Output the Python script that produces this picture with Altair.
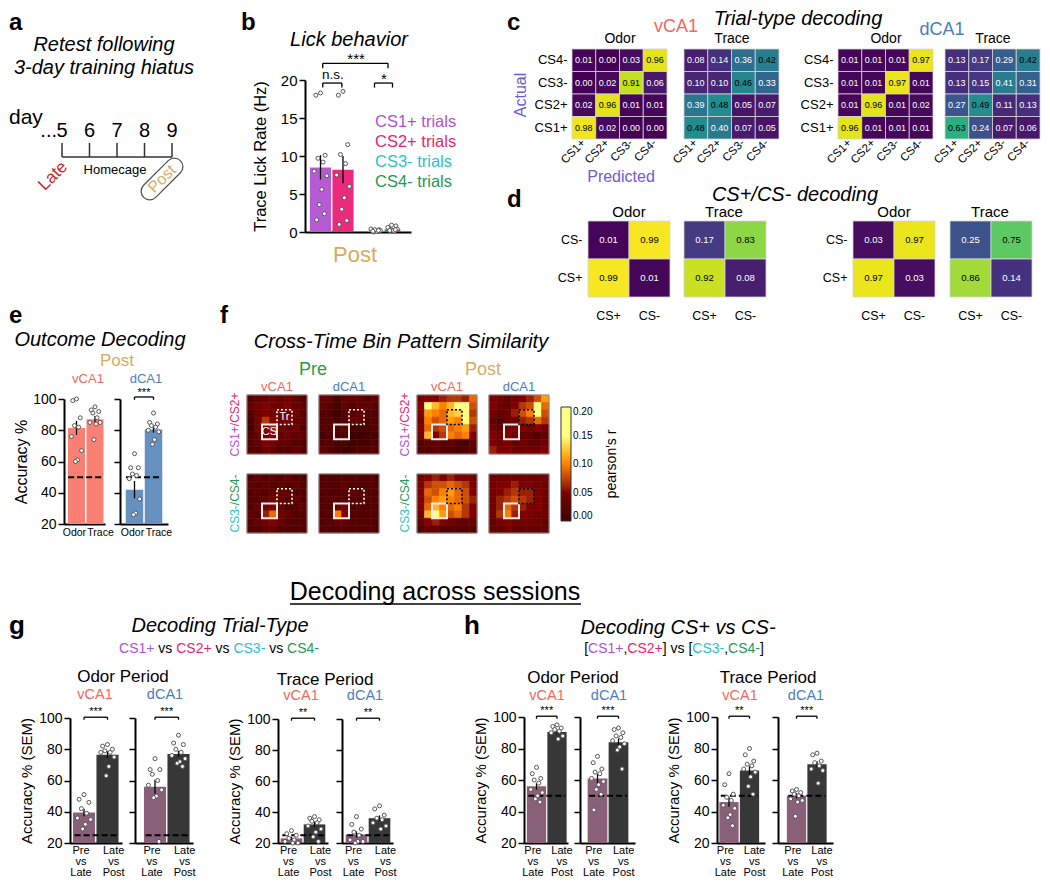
import altair as alt
import pandas as pd

FONT = "Liberation Sans"
W, H = 1034, 869
MARGIN = 8


def X(p):
    return p - MARGIN


def Y(p):
    return p - MARGIN


# ---------------- colours ----------------
COL_CS1 = "#B34FD3"
COL_CS2 = "#EA1F70"
COL_CS3 = "#2BC3CB"
COL_CS4 = "#1F9956"
COL_V = "#F2685A"
COL_D = "#4B7DBD"
COL_POST = "#D4AC62"
COL_PRE = "#2B9A47"
COL_LATE = "#C4272D"
COL_AP = "#6E5AD6"
BAR_CS1 = "#B65BD3"
BAR_CS2 = "#EA2A7B"
BAR_CS3 = "#2BC3CB"
BAR_CS4 = "#21985A"
BAR_V = "#F98072"
BAR_D = "#6690BF"
BAR_PVL = "#8A5F78"
BAR_LVP = "#373737"

# ---------------- data ----------------
# a: timeline
days = [5, 6, 7, 8, 9]

# b: lick behaviour
lick_types = ["CS1+", "CS2+", "CS3-", "CS4-"]
lick_means = [8.5, 8.2, 0.15, 0.35]
lick_sems = [1.6, 1.8, 0.04, 0.08]
lick_cs1 = [18.3, 18.0, 10.1, 9.7, 9.2, 8.0, 7.4, 5.6, 3.6, 2.4, 1.6]
lick_cs2 = [18.5, 18.0, 11.5, 10.2, 9.0, 7.5, 6.0, 4.5, 3.0, 1.5, 1.0]
lick_cs3 = [0.1, 0.2, 0.3, 0.0, 0.1, 0.4, 0.2, 0.1, 0.3, 0.2, 0.1]
lick_cs4 = [0.2, 0.5, 0.8, 0.3, 0.1, 0.6, 0.4, 0.2, 0.9, 0.3, 0.2]

# c: trial-type confusion matrices (rows = actual, top to bottom)
cm_rows = ["CS4-", "CS3-", "CS2+", "CS1+"]
cm_cols = ["CS1+", "CS2+", "CS3-", "CS4-"]
c_v_odor = [[0.01, 0.00, 0.03, 0.96], [0.00, 0.02, 0.91, 0.06],
            [0.02, 0.96, 0.01, 0.01], [0.98, 0.02, 0.00, 0.00]]
c_v_trace = [[0.08, 0.14, 0.36, 0.42], [0.10, 0.10, 0.46, 0.33],
             [0.39, 0.48, 0.05, 0.07], [0.48, 0.40, 0.07, 0.05]]
c_d_odor = [[0.01, 0.01, 0.01, 0.97], [0.01, 0.01, 0.97, 0.01],
            [0.01, 0.96, 0.01, 0.02], [0.96, 0.01, 0.01, 0.01]]
c_d_trace = [[0.13, 0.17, 0.29, 0.42], [0.13, 0.15, 0.41, 0.31],
             [0.27, 0.49, 0.11, 0.13], [0.63, 0.24, 0.07, 0.06]]

# d: CS+/CS- confusion matrices
dm_rows = ["CS-", "CS+"]
dm_cols = ["CS+", "CS-"]
d_v_odor = [[0.01, 0.99], [0.99, 0.01]]
d_v_trace = [[0.17, 0.83], [0.92, 0.08]]
d_d_odor = [[0.03, 0.97], [0.97, 0.03]]
d_d_trace = [[0.25, 0.75], [0.86, 0.14]]

# e: outcome decoding (Post)
e_v_means = [81.5, 87.0]
e_v_sems = [4.5, 2.2]
e_v_odor = [100, 99, 88, 83, 82, 76, 67, 61, 60]
e_v_trace = [95, 93, 92, 91, 88, 85, 85, 84, 74]
e_d_means = [42.0, 80.5]
e_d_sems = [5.5, 2.0]
e_d_odor = [65, 56, 56, 52, 51, 49, 36, 27, 26]
e_d_trace = [91, 85, 84, 83, 82, 80, 79, 74, 71]

# f: cross-time-bin pattern similarity (8x8, rows top to bottom)
f_pre_v_plus = [
    [.02, .03, .03, .04, .03, .04, .03, .02],
    [.03, .04, .05, .04, .04, .05, .03, .03],
    [.02, .04, .05, .04, .05, .04, .04, .02],
    [.01, .04, .07, .05, .04, .05, .03, .03],
    [.01, .04, .05, .06, .04, .03, .04, .02],
    [.02, .03, .04, .05, .03, .04, .03, .03],
    [.02, .03, .05, .04, .03, .03, .02, .02],
    [.02, .02, .04, .03, .02, .02, .03, .02]]
f_pre_d_plus = [
    [.03, .03, .01, .03, .03, .03, .02, .03],
    [.03, .02, .01, .03, .02, .03, .03, .02],
    [.02, .02, .00, .02, .02, .03, .02, .02],
    [.02, .02, .01, .02, .03, .03, .02, .02],
    [.02, .02, .02, .03, .01, .01, .01, .02],
    [.01, .02, .02, .02, .00, .00, .01, .01],
    [.02, .02, .01, .01, .00, .01, .01, .02],
    [.03, .02, .01, .00, .01, .02, .02, .02]]
f_post_v_plus = [
    [.04, .05, .05, .06, .07, .07, .06, .09],
    [.05, .15, .12, .10, .12, .17, .20, .08],
    [.05, .11, .10, .09, .12, .13, .16, .07],
    [.04, .10, .08, .09, .11, .10, .15, .08],
    [.05, .09, .07, .08, .09, .10, .11, .06],
    [.04, .12, .05, .07, .10, .09, .10, .05],
    [.02, .03, .03, .02, .03, .02, .01, .03],
    [.02, .02, .03, .02, .02, .01, .02, .02]]
f_post_d_plus = [
    [.04, .04, .03, .04, .05, .06, .08, .11],
    [.05, .04, .03, .05, .07, .08, .19, .09],
    [.04, .03, .04, .06, .08, .10, .16, .08],
    [.03, .02, .03, .04, .06, .07, .09, .07],
    [.04, .03, .04, .05, .05, .04, .05, .04],
    [.05, .04, .05, .04, .03, .03, .02, .03],
    [.05, .04, .05, .03, .04, .03, .03, .04],
    [.06, .05, .05, .04, .04, .04, .04, .05]]
f_pre_v_minus = [
    [.02, .03, .02, .03, .02, .03, .02, .02],
    [.03, .02, .03, .02, .03, .02, .03, .02],
    [.02, .03, .02, .03, .03, .03, .02, .02],
    [.02, .02, .03, .04, .03, .02, .03, .02],
    [.02, .03, .04, .05, .03, .02, .02, .03],
    [.03, .02, .06, .09, .04, .03, .02, .02],
    [.02, .03, .04, .05, .03, .02, .02, .02],
    [.02, .02, .03, .03, .02, .02, .02, .02]]
f_pre_d_minus = [
    [.02, .02, .02, .02, .02, .02, .02, .02],
    [.02, .02, .02, .03, .02, .02, .02, .02],
    [.02, .02, .02, .02, .03, .02, .02, .02],
    [.02, .02, .02, .02, .02, .02, .02, .02],
    [.02, .02, .03, .04, .02, .02, .02, .02],
    [.02, .02, .10, .05, .02, .02, .02, .02],
    [.02, .02, .03, .03, .02, .02, .02, .02],
    [.02, .02, .02, .02, .02, .02, .02, .02]]
f_post_v_minus = [
    [.04, .05, .06, .05, .06, .05, .05, .04],
    [.05, .07, .08, .08, .09, .08, .07, .05],
    [.05, .09, .08, .10, .11, .09, .08, .05],
    [.05, .08, .10, .11, .10, .09, .08, .06],
    [.05, .09, .12, .10, .09, .10, .07, .05],
    [.04, .12, .20, .11, .08, .09, .07, .05],
    [.03, .05, .06, .05, .04, .03, .03, .03],
    [.02, .03, .03, .02, .02, .02, .02, .02]]
f_post_d_minus = [
    [.04, .04, .04, .04, .04, .04, .04, .04],
    [.04, .05, .05, .06, .05, .05, .04, .04],
    [.04, .05, .06, .07, .06, .06, .05, .04],
    [.04, .06, .07, .08, .07, .06, .05, .04],
    [.04, .06, .09, .07, .06, .05, .05, .04],
    [.04, .07, .10, .06, .05, .05, .04, .04],
    [.03, .04, .05, .04, .04, .04, .04, .03],
    [.03, .03, .04, .03, .03, .03, .03, .03]]
cs_bins = [2, 4]
tr_bins = [4, 6]
cbar_ticks = [0.0, 0.05, 0.10, 0.15, 0.20]

# g: decoding trial type across sessions
g_odor_v_means = [39.5, 76.5]
g_odor_v_sems = [2.4, 2.2]
g_odor_v_pvl = [51, 48, 46, 42, 39, 36, 35, 32, 29]
g_odor_v_lvp = [83, 82, 80, 79, 78, 78, 75, 69, 63]
g_odor_d_means = [56.0, 77.0]
g_odor_d_sems = [4.5, 2.0]
g_odor_d_pvl = [74, 67, 67, 64, 60, 57, 54, 50, 49, 21]
g_odor_d_lvp = [89, 84, 83, 80, 78, 76, 74, 72, 71, 69]
g_trace_v_means = [23.0, 32.0]
g_trace_v_sems = [1.0, 1.8]
g_trace_v_pvl = [28, 26, 25, 23, 22, 21, 20, 20]
g_trace_v_lvp = [37, 36, 35, 34, 33, 31, 29, 27, 24, 21]
g_trace_d_means = [25.5, 36.0]
g_trace_d_sems = [2.0, 1.8]
g_trace_d_pvl = [37, 32, 29, 27, 25, 22, 21, 21, 20]
g_trace_d_lvp = [44, 42, 38, 36, 35, 33, 31, 29]

# h: decoding CS+ vs CS- across sessions
h_odor_v_means = [56.0, 90.5]
h_odor_v_sems = [2.2, 1.0]
h_odor_v_pvl = [68, 64, 61, 60, 58, 54, 52, 50, 48, 46]
h_odor_v_lvp = [95, 94, 93, 92, 91, 90, 88, 86]
h_odor_d_means = [61.0, 84.0]
h_odor_d_sems = [3.0, 2.4]
h_odor_d_pvl = [75, 71, 67, 65, 64, 61, 59, 57, 54, 51, 41]
h_odor_d_lvp = [93, 92, 90, 88, 87, 85, 83, 81, 79, 67]
h_trace_v_means = [46.0, 66.0]
h_trace_v_sems = [3.0, 2.8]
h_trace_v_pvl = [64, 57, 51, 49, 47, 44, 42, 38, 36, 31]
h_trace_v_lvp = [80, 76, 72, 70, 69, 67, 65, 62, 56, 51]
h_trace_d_means = [50.0, 70.0]
h_trace_d_sems = [1.8, 1.9]
h_trace_d_pvl = [54, 53, 52, 51, 50, 48, 47, 46, 37]
h_trace_d_lvp = [77, 76, 72, 71, 69, 67, 66, 58]

acc_ticks = [20, 40, 60, 80, 100]
lick_ticks = [0, 5, 10, 15, 20]

# ---------------- helpers ----------------
AW = {"C": .722, "S": .667, "+": .584, "-": .333, " ": .278, "v": .5, "s": .5,
      "[": .278, "]": .278, ",": .278, "/": .278}


def tw(s, size):
    return sum(AW.get(ch, .556) for ch in s) * size


def T(s, x, y, size=14, color="black", align="center", baseline="middle",
      angle=None, italic=False, bold=False):
    kw = dict(font=FONT, fontSize=size, align=align, baseline=baseline, color=color)
    if angle is not None:
        kw["angle"] = angle
    if italic:
        kw["fontStyle"] = "italic"
    if bold:
        kw["fontWeight"] = "bold"
    return alt.Chart(pd.DataFrame({"t": [s]})).mark_text(**kw).encode(
        x=alt.value(X(x)), y=alt.value(Y(y)), text="t:N")


def seg_h(pieces, cx, y, size):
    total = sum(tw(p, size) for p, _ in pieces)
    x = cx - total / 2
    out = []
    for p, col in pieces:
        lead = len(p) - len(p.lstrip(" "))
        out.append(T(p.strip(" "), x + tw(" " * lead, size), y, size, col, align="left"))
        x += tw(p, size)
    return out


def seg_v(pieces, x, cy, size):
    total = sum(tw(p, size) for p, _ in pieces)
    y = cy + total / 2
    out = []
    for p, col in pieces:
        out.append(T(p, x, y, size, col, align="left", angle=270))
        y -= tw(p, size)
    return out


def bracket(a, b, level, drop):
    return [(a, b, level, level), (a, a, level, level - drop), (b, b, level, level - drop)]


JIT = [0.0, -0.55, 0.55, -0.3, 0.3, -0.75, 0.75, 0.15, -0.15, 0.45, -0.45]


def bar_panel(means, sems, pts, colors, pos, half, cpx, axis_x, x_end, y_bot, y_top,
              ydom, yvals, show_ylab=True, ytitle=None, xlabel_expr=None, xlab_pos=None,
              chance=None, chance_span=None, segs=(), sig=(), ylab_size=14,
              ytitle_size=15, xlab_size=12, xlab_pad=2, xlab_lh=11, ytitle_pad=4,
              pt_size=18):
    unit = (cpx[1] - cpx[0]) / (pos[1] - pos[0])
    d0 = pos[0] + (axis_x - cpx[0]) / unit
    d1 = pos[0] + (x_end - cpx[0]) / unit
    xs = alt.Scale(domain=[d0, d1], range=[X(axis_x), X(x_end)], nice=False, zero=False)
    ys = alt.Scale(domain=ydom, range=[Y(y_bot), Y(y_top)], nice=False, zero=False)
    if xlabel_expr:
        xax = alt.Axis(orient="bottom", offset=Y(y_bot) - H,
                       values=list(xlab_pos if xlab_pos else pos),
                       labelExpr=xlabel_expr, ticks=False, domainWidth=2,
                       domainColor="black", labelFontSize=xlab_size, labelColor="black",
                       labelPadding=xlab_pad, labelLineHeight=xlab_lh, labelFlush=False,
                       labelOverlap=False, labelAngle=0, labelBaseline="top",
                       title=None, grid=False)
    else:
        xax = alt.Axis(orient="bottom", offset=Y(y_bot) - H, labels=False, ticks=False,
                       domainWidth=2, domainColor="black", title=None, grid=False)
    yax = alt.Axis(orient="left", offset=-X(axis_x), values=list(yvals), labels=show_ylab,
                   tickSize=6, tickWidth=1.5, tickColor="black", domainWidth=2,
                   domainColor="black", labelFontSize=ylab_size, labelColor="black",
                   labelPadding=2, labelFlush=False, labelOverlap=False,
                   title=ytitle if (show_ylab and ytitle) else None,
                   titleFontSize=ytitle_size, titleFontWeight="normal",
                   titleColor="black", titlePadding=ytitle_pad, grid=False)
    n = len(means)
    bdf = pd.DataFrame({
        "p": pos,
        "xa": [p - h for p, h in zip(pos, half)],
        "xb": [p + h for p, h in zip(pos, half)],
        "m": means,
        "base": [ydom[0]] * n,
        "lo": [m - s for m, s in zip(means, sems)],
        "hi": [m + s for m, s in zip(means, sems)],
        "col": colors,
    })
    layers = [
        alt.Chart(bdf).mark_rect().encode(
            x=alt.X("xa:Q", scale=xs, axis=xax), x2="xb:Q",
            y=alt.Y("m:Q", scale=ys, axis=yax), y2="base:Q",
            color=alt.Color("col:N", scale=None)),
    ]
    if chance is not None:
        cdf = pd.DataFrame({"xa": [chance_span[0]], "xb": [chance_span[1]], "c": [chance]})
        layers.append(alt.Chart(cdf).mark_rule(color="black", strokeWidth=2,
                                               strokeDash=[6, 3]).encode(
            x=alt.X("xa:Q", scale=xs, axis=xax), x2="xb:Q",
            y=alt.Y("c:Q", scale=ys, axis=yax)))
    layers.append(alt.Chart(bdf).mark_rule(color="black", strokeWidth=1.3).encode(
        x=alt.X("p:Q", scale=xs, axis=xax),
        y=alt.Y("lo:Q", scale=ys, axis=yax), y2="hi:Q"))
    prec = []
    for k, arr in enumerate(pts):
        for i, v in enumerate(arr):
            prec.append({"x": pos[k] + JIT[i % len(JIT)] * half[k] * 0.8, "v": v})
    layers.append(alt.Chart(pd.DataFrame(prec)).mark_point(
        filled=True, fill="white", stroke="#555555", strokeWidth=1, size=pt_size,
        opacity=1).encode(
        x=alt.X("x:Q", scale=xs, axis=xax), y=alt.Y("v:Q", scale=ys, axis=yax)))
    if segs:
        sdf = pd.DataFrame(list(segs), columns=["x", "x2", "y", "y2"])
        layers.append(alt.Chart(sdf).mark_rule(color="black", strokeWidth=1.3).encode(
            x=alt.X("x:Q", scale=xs, axis=xax), x2="x2:Q",
            y=alt.Y("y:Q", scale=ys, axis=yax), y2="y2:Q"))
    for (sx, sy, st, ss) in sig:
        tdf = pd.DataFrame({"x": [sx], "y": [sy], "t": [st]})
        layers.append(alt.Chart(tdf).mark_text(font=FONT, fontSize=ss, baseline="middle",
                                               color="black").encode(
            x=alt.X("x:Q", scale=xs, axis=xax), y=alt.Y("y:Q", scale=ys, axis=yax),
            text="t:N"))
    return alt.layer(*layers)


def conf_panel(mat, rows, cols, x0, x1, y0, y1, ylabels, xangle, cell_font,
               xlab_font, ylab_font, xpad, ypad):
    recs = []
    for i, r in enumerate(rows):
        for j, c in enumerate(cols):
            recs.append({"row": r, "col": c, "v": mat[i][j]})
    df = pd.DataFrame(recs)
    xs = alt.Scale(domain=cols, range=[X(x0), X(x1)], paddingInner=0, paddingOuter=0)
    ys = alt.Scale(domain=rows, range=[Y(y0), Y(y1)], paddingInner=0, paddingOuter=0)
    xkw = dict(orient="bottom", offset=Y(y1) - H, ticks=False, domain=False, title=None,
               labelFontSize=xlab_font, labelPadding=xpad, labelColor="black", grid=False)
    if xangle:
        xkw.update(labelAngle=xangle, labelAlign="right", labelBaseline="middle")
    else:
        xkw.update(labelAngle=0)
    xax = alt.Axis(**xkw)
    if ylabels:
        yax = alt.Axis(orient="left", offset=-X(x0), ticks=False, domain=False, title=None,
                       labelFontSize=ylab_font, labelPadding=ypad, labelColor="black",
                       grid=False)
    else:
        yax = None
    base = alt.Chart(df)
    rect = base.mark_rect(stroke="#d4d4d4", strokeWidth=0.8).encode(
        x=alt.X("col:N", scale=xs, axis=xax),
        y=alt.Y("row:N", scale=ys, axis=yax),
        color=alt.Color("v:Q", scale=alt.Scale(scheme="viridis", domain=[0, 1]),
                        legend=None))
    text = base.mark_text(font=FONT, fontSize=cell_font).encode(
        x=alt.X("col:N", scale=xs, axis=xax),
        y=alt.Y("row:N", scale=ys, axis=yax),
        text=alt.Text("v:Q", format=".2f"),
        color=alt.condition("datum.v >= 0.42", alt.value("black"), alt.value("white")))
    return alt.layer(rect, text)


HOT_RANGE = ["#000000", "#800000", "#ff8000", "#ffff80", "#ffffff"]
HOT = alt.Scale(domain=cbar_ticks, range=HOT_RANGE, clamp=True)


def sim_panel(mat, x0, x1, y0, y1, tr_col, cs_label=False, legend=None):
    n = len(mat)
    recs = []
    for i in range(n):
        for j in range(n):
            recs.append({"x": j, "x2": j + 1, "y": n - 1 - i, "y2": n - i, "v": mat[i][j]})
    df = pd.DataFrame(recs)
    xs = alt.Scale(domain=[0, n], range=[X(x0), X(x1)], nice=False, zero=False)
    ys = alt.Scale(domain=[0, n], range=[Y(y1), Y(y0)], nice=False, zero=False)

    def ex(f):
        return alt.X(f, scale=xs, axis=None)

    def ey(f):
        return alt.Y(f, scale=ys, axis=None)

    layers = [
        alt.Chart(df).mark_rect(strokeWidth=0.6).encode(
            x=ex("x:Q"), x2="x2:Q", y=ey("y:Q"), y2="y2:Q",
            color=alt.Color("v:Q", scale=HOT, legend=legend),
            stroke=alt.Stroke("v:Q", scale=alt.Scale(domain=cbar_ticks, range=HOT_RANGE,
                                                     clamp=True), legend=None)),
        alt.Chart(pd.DataFrame({"a": [0], "b": [n]})).mark_rect(
            fillOpacity=0, stroke="#8c8c8c", strokeWidth=1).encode(
            x=ex("a:Q"), x2="b:Q", y=ey("a:Q"), y2="b:Q"),
        alt.Chart(pd.DataFrame({"a": [cs_bins[0]], "b": [cs_bins[1]]})).mark_rect(
            fillOpacity=0, stroke="#ececec", strokeWidth=2).encode(
            x=ex("a:Q"), x2="b:Q", y=ey("a:Q"), y2="b:Q"),
        alt.Chart(pd.DataFrame({"a": [tr_bins[0]], "b": [tr_bins[1]]})).mark_rect(
            fillOpacity=0, stroke=tr_col, strokeWidth=1.6, strokeDash=[2, 2]).encode(
            x=ex("a:Q"), x2="b:Q", y=ey("a:Q"), y2="b:Q"),
    ]
    if cs_label:
        mid_cs = (cs_bins[0] + cs_bins[1]) / 2
        mid_tr = (tr_bins[0] + tr_bins[1]) / 2
        ldf = pd.DataFrame({"x": [mid_cs, mid_tr], "y": [mid_cs, mid_tr], "t": ["CS", "Tr"]})
        layers.append(alt.Chart(ldf).mark_text(font=FONT, fontSize=11, color="white").encode(
            x=ex("x:Q"), y=ey("y:Q"), text="t:N"))
    return alt.layer(*layers)


layers = []

# ---------------- panel a ----------------
xs_a = alt.Scale(domain=[days[0], days[-1]], range=[X(62), X(172)], nice=False, zero=False)
days_df = pd.DataFrame({"day": days})
span_df = pd.DataFrame({"a": [days[0]], "b": [days[-1]]})
timeline = alt.layer(
    alt.Chart(days_df).mark_rule(color="#333333", strokeWidth=1.5).encode(
        x=alt.X("day:Q", scale=xs_a, axis=None), y=alt.value(Y(143)), y2=alt.value(Y(157))),
    alt.Chart(span_df).mark_rule(color="#333333", strokeWidth=1.5).encode(
        x=alt.X("a:Q", scale=xs_a, axis=None), x2="b:Q", y=alt.value(Y(157))),
    alt.Chart(days_df).mark_text(font=FONT, fontSize=20, baseline="alphabetic").encode(
        x=alt.X("day:Q", scale=xs_a, axis=None), y=alt.value(Y(137)), text="day:Q"),
)
layers.append(timeline)
POST_BOX = ("M -0.67 -0.33 L 0.67 -0.33 A 0.33 0.33 0 0 1 0.67 0.33 "
            "L -0.67 0.33 A 0.33 0.33 0 0 1 -0.67 -0.33 Z")
layers.append(alt.Chart(pd.DataFrame({"t": ["box"]})).mark_point(
    shape=POST_BOX, angle=315, size=2700, filled=False, color="#555555",
    strokeWidth=1.3, opacity=1).encode(x=alt.value(X(162)), y=alt.value(Y(179))))
layers += [
    T("a", 9, 23, 24, bold=True, align="left"),
    T("Retest following", 104, 45, 20, italic=True),
    T("3-day training hiatus", 104, 68, 20, italic=True),
    T("day", 9, 124, 21, align="left", baseline="alphabetic"),
    T("...", 57, 137, 20, align="right", baseline="alphabetic"),
    T("Late", 53, 176, 17, COL_LATE, angle=315),
    T("Homecage", 115, 170, 13),
    T("Post", 162, 179, 16, COL_POST, angle=315),
]

# ---------------- panel b ----------------
b_segs = bracket(0.1, 3.0, 22.2, 0.65) + bracket(0.1, 0.95, 19.6, 0.6) + bracket(2.4, 3.2, 19.6, 0.6)
b_sig = [(1.58, 22.7, "***", 15), (0.55, 20.6, "n.s.", 13.5), (2.82, 20.1, "*", 15)]
layers.append(bar_panel(
    lick_means, lick_sems, [lick_cs1, lick_cs2, lick_cs3, lick_cs4],
    [BAR_CS1, BAR_CS2, BAR_CS3, BAR_CS4], pos=[0, 1, 2.45, 3.2],
    half=[0.47, 0.47, 0.35, 0.35], cpx=[320.5, 343], axis_x=305, x_end=411,
    y_bot=232, y_top=80, ydom=[0, 20], yvals=lick_ticks, ytitle="Trace Lick Rate (Hz)",
    ylab_size=15, ytitle_size=16.5, ytitle_pad=12, segs=b_segs, sig=b_sig, pt_size=16))
layers += [
    T("b", 241, 23, 24, bold=True, align="left"),
    T("Lick behavior", 349, 40, 20, italic=True),
    T("CS1+ trials", 375, 122, 16.5, COL_CS1, align="left"),
    T("CS2+ trials", 375, 142, 16.5, COL_CS2, align="left"),
    T("CS3-  trials", 375, 162, 16.5, COL_CS3, align="left"),
    T("CS4-  trials", 375, 182, 16.5, COL_CS4, align="left"),
    T("Post", 355, 255, 22, COL_POST),
]

# ---------------- panel c ----------------
for mat, x0, x1, ylab in [(c_v_odor, 572, 667, True), (c_v_trace, 684, 779, False),
                          (c_d_odor, 838, 933, True), (c_d_trace, 945, 1040, False)]:
    layers.append(conf_panel(mat, cm_rows, cm_cols, x0, x1, 49, 139, ylab, 315,
                             9, 11.5, 13, 2, 5))
layers += [
    T("c", 507, 23, 24, bold=True, align="left"),
    T("Trial-type decoding", 798, 19, 20, italic=True),
    T("vCA1", 676, 27, 18, COL_V),
    T("dCA1", 942, 30, 18, COL_D),
    T("Odor", 620, 39, 14), T("Trace", 732, 39, 14),
    T("Odor", 886, 39, 14), T("Trace", 993, 39, 14),
    T("Actual", 521, 95, 16, COL_AP, angle=270),
    T("Predicted", 621, 177, 16, COL_AP),
]

# ---------------- panel d ----------------
for mat, x0, x1, ylab in [(d_v_odor, 588, 670, True), (d_v_trace, 684, 766, False),
                          (d_d_odor, 853, 935, True), (d_d_trace, 950, 1032, False)]:
    layers.append(conf_panel(mat, dm_rows, dm_cols, x0, x1, 221, 297, ylab, 0,
                             9.5, 12.5, 12.5, 12, 6))
layers += [
    T("d", 507, 200, 24, bold=True, align="left"),
    T("CS+/CS- decoding", 795, 195, 20, italic=True),
    T("Odor", 629, 212, 15), T("Trace", 724, 212, 15),
    T("Odor", 894, 212, 15), T("Trace", 990, 212, 15),
]

# ---------------- panel e ----------------
e_expr = "datum.value < 0.5 ? 'Odor' : 'Trace'"
layers.append(bar_panel(
    e_v_means, e_v_sems, [e_v_odor, e_v_trace], [BAR_V, BAR_V], pos=[0, 1],
    half=[0.46, 0.46], cpx=[76.5, 95], axis_x=64, x_end=105, y_bot=524, y_top=399,
    ydom=[20, 100], yvals=acc_ticks, ytitle="Accuracy %", ytitle_size=16,
    xlabel_expr=e_expr, xlab_pos=[-0.14, 1.27], xlab_size=10.5, xlab_pad=3, chance=50,
    chance_span=[-0.45, 1.45], ytitle_pad=3, pt_size=16))
layers.append(bar_panel(
    e_d_means, e_d_sems, [e_d_odor, e_d_trace], [BAR_D, BAR_D], pos=[0, 1],
    half=[0.46, 0.46], cpx=[134.5, 153.5], axis_x=120, x_end=168, y_bot=524, y_top=399,
    ydom=[20, 100], yvals=acc_ticks, show_ylab=False, xlabel_expr=e_expr,
    xlab_pos=[-0.13, 1.26], xlab_size=10.5, xlab_pad=3, chance=50,
    chance_span=[-0.45, 1.45],
    segs=bracket(0, 1, 101.3, 1.8), sig=[(0.5, 104.0, "***", 11)], pt_size=16))
layers += [
    T("e", 9, 316, 24, bold=True, align="left"),
    T("Outcome Decoding", 100, 340, 20, italic=True),
    T("Post", 117, 361, 17, COL_POST),
    T("vCA1", 88, 378.5, 13, COL_V), T("dCA1", 146, 378.5, 13, COL_D),
]

# ---------------- panel f ----------------
cbar_legend = alt.Legend(orient="none", legendX=X(561), legendY=Y(407), direction="vertical",
                         gradientLength=114, gradientThickness=10, values=cbar_ticks,
                         format=".2f", labelFontSize=10, labelColor="black", title=None,
                         gradientStrokeColor="#333333", gradientStrokeWidth=1)
f_cols = [(247, 307), (319, 379), (417, 477), (489, 549)]
f_rows = [(395, 454), (474, 533)]
f_mats = [[f_pre_v_plus, f_pre_d_plus, f_post_v_plus, f_post_d_plus],
          [f_pre_v_minus, f_pre_d_minus, f_post_v_minus, f_post_d_minus]]
for ri, (y0, y1) in enumerate(f_rows):
    for ci, (x0, x1) in enumerate(f_cols):
        tr_col = "white" if ci < 2 else "black"
        leg = cbar_legend if (ri == 0 and ci == 3) else None
        layers.append(sim_panel(f_mats[ri][ci], x0, x1, y0, y1, tr_col,
                                cs_label=(ri == 0 and ci == 0), legend=leg))
layers += [
    T("f", 220, 316, 24, bold=True, align="left"),
    T("Cross-Time Bin Pattern Similarity", 401, 342, 20, italic=True),
    T("Pre", 313, 370, 18, COL_PRE), T("Post", 483, 370, 18, COL_POST),
    T("vCA1", 277, 387, 13, COL_V), T("dCA1", 349, 387, 13, COL_D),
    T("vCA1", 447, 387, 13, COL_V), T("dCA1", 519, 387, 13, COL_D),
    T("pearson's r", 612, 464, 14, angle=270),
]
for xx in (235, 405):
    layers += seg_v([("CS1+", COL_CS1), ("/CS2+", COL_CS2)], xx, 424.5, 12)
    layers += seg_v([("CS3-", COL_CS3), ("/CS4-", COL_CS4)], xx, 503.5, 12)

# ---------------- sessions header ----------------
layers.append(T("Decoding across sessions", 435, 592, 25))
layers.append(alt.Chart(pd.DataFrame({"t": ["u"]})).mark_rule(color="black", strokeWidth=1.5).encode(
    x=alt.value(X(290)), x2=alt.value(X(581)), y=alt.value(Y(604))))

# ---------------- panels g and h ----------------
pl_expr = "datum.value < 0.5 ? ['Pre','vs','Late'] : ['Late','vs','Post']"


def session_panel(means, sems, pvl, lvp, cpx, axis_x, x_end, y_bot, y_top, chance,
                  show_ylab, stars, lab_pos, ytitle_pad=4):
    return bar_panel(
        means, sems, [pvl, lvp], [BAR_PVL, BAR_LVP], pos=[0, 1], half=[0.47, 0.47],
        cpx=cpx, axis_x=axis_x, x_end=x_end, y_bot=y_bot, y_top=y_top, ydom=[20, 100],
        yvals=acc_ticks, show_ylab=show_ylab, ytitle="Accuracy % (SEM)",
        xlabel_expr=pl_expr, xlab_pos=lab_pos, xlab_size=11, xlab_pad=1, xlab_lh=11.2,
        chance=chance, chance_span=[-0.4, 1.4], segs=bracket(0, 1, 100.5, 1.6),
        sig=[(0.5, 103.8, stars, 11)], ytitle_pad=ytitle_pad, pt_size=16)


G_LAB = [-0.15, 1.24]
H_LAB = [-0.2, 1.22]
layers += [
    session_panel(g_odor_v_means, g_odor_v_sems, g_odor_v_pvl, g_odor_v_lvp,
                  [84, 107.5], 70, 122, 843, 718, 25, True, "***", G_LAB),
    session_panel(g_odor_d_means, g_odor_d_sems, g_odor_d_pvl, g_odor_d_lvp,
                  [155, 178.5], 135, 193, 843, 718, 25, False, "***", G_LAB),
    session_panel(g_trace_v_means, g_trace_v_sems, g_trace_v_pvl, g_trace_v_lvp,
                  [291.5, 314.5], 278, 328, 843, 719, 25, True, "**", G_LAB),
    session_panel(g_trace_d_means, g_trace_d_sems, g_trace_d_pvl, g_trace_d_lvp,
                  [356.5, 379.5], 342, 393, 843, 719, 25, False, "**", G_LAB),
    session_panel(h_odor_v_means, h_odor_v_sems, h_odor_v_pvl, h_odor_v_lvp,
                  [536.5, 557], 524, 568, 843, 717, 50, True, "***", H_LAB),
    session_panel(h_odor_d_means, h_odor_d_sems, h_odor_d_pvl, h_odor_d_lvp,
                  [597.5, 618.5], 580, 635, 843, 717, 50, False, "***", H_LAB),
    session_panel(h_trace_v_means, h_trace_v_sems, h_trace_v_pvl, h_trace_v_lvp,
                  [729, 749.5], 717, 765, 843, 717, 50, True, "**", H_LAB),
    session_panel(h_trace_d_means, h_trace_d_sems, h_trace_d_pvl, h_trace_d_lvp,
                  [796.5, 817], 778, 833, 843, 717, 50, False, "***", H_LAB),
]
layers += [
    T("g", 9, 626, 26, bold=True, align="left"),
    T("Decoding Trial-Type", 220, 626, 20, italic=True),
    T("Odor Period", 123, 677, 17), T("Trace Period", 325, 680, 17),
    T("vCA1", 95, 695, 14.5, COL_V), T("dCA1", 165, 695, 14.5, COL_D),
    T("vCA1", 301, 696, 14.5, COL_V), T("dCA1", 365, 696, 14.5, COL_D),
    T("h", 464, 626, 26, bold=True, align="left"),
    T("Decoding CS+ vs CS-", 678, 628, 20, italic=True),
    T("Odor Period", 573, 678, 17), T("Trace Period", 768, 678, 17),
    T("vCA1", 547, 696, 14.5, COL_V), T("dCA1", 609, 696, 14.5, COL_D),
    T("vCA1", 740, 696, 14.5, COL_V), T("dCA1", 806, 696, 14.5, COL_D),
]
layers += seg_h([("CS1+", COL_CS1), (" vs ", "black"), ("CS2+", COL_CS2), (" vs ", "black"),
                 ("CS3-", COL_CS3), (" vs ", "black"), ("CS4-", COL_CS4)], 219, 649, 14)
layers += seg_h([("[", "black"), ("CS1+", COL_CS1), (",", "black"), ("CS2+", COL_CS2),
                 ("] vs [", "black"), ("CS3-", COL_CS3), (",", "black"), ("CS4-", COL_CS4),
                 ("]", "black")], 674, 649, 14)

chart = alt.layer(*layers).resolve_scale(
    x="independent", y="independent", color="independent"
).properties(
    width=W, height=H, autosize=alt.AutoSizeParams(type="none"), padding=0
).configure_view(stroke=None).configure_axis(
    labelFont=FONT, titleFont=FONT, grid=False
).configure_legend(labelFont=FONT)

chart.save("out.html", embed_options={"renderer": "svg", "actions": False})
